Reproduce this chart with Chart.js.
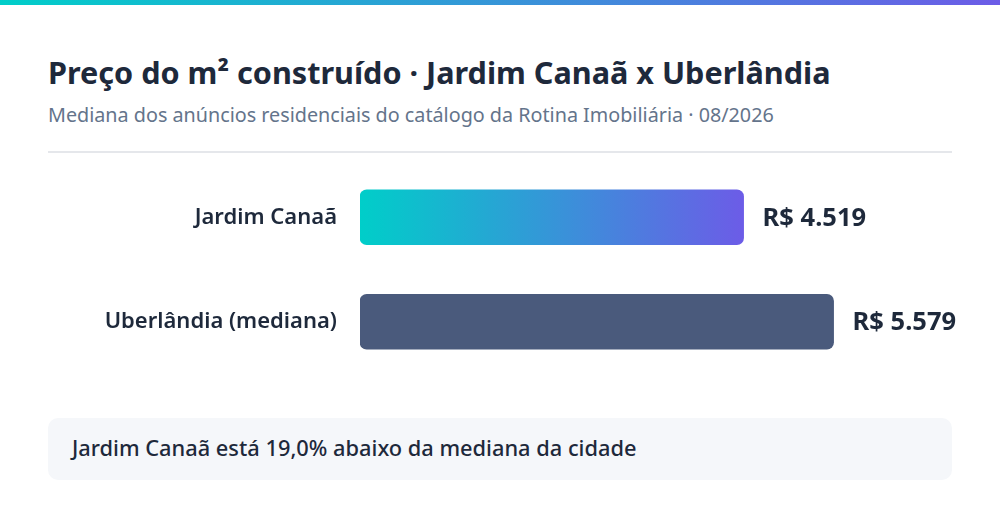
<!DOCTYPE html>
<html lang="pt-BR">
<head>
<meta charset="utf-8">
<script src="https://cdn.jsdelivr.net/npm/chart.js@4/dist/chart.umd.min.js"></script>
<style>
  html, body { margin: 0; padding: 0; background: #fff; }
  body { width: 1000px; height: 520px; position: relative; overflow: hidden; font-family: "Noto Sans", "Open Sans", sans-serif; color: #1e293b; }
  .topbar { position: absolute; left: 0; top: 0; width: 1000px; height: 5px; background: linear-gradient(90deg, #00cec9, #6c5ce7); }
  h1 { position: absolute; left: 48px; top: 52px; margin: 0; font-size: 30.6px; line-height: 40px; font-weight: 700; }
  .sub { position: absolute; left: 48px; top: 101px; margin: 0; font-size: 19.75px; line-height: 28px; color: #64748b; }
  .rule { position: absolute; left: 48px; top: 151px; width: 904px; height: 2px; background: #e5e7eb; }
  #wrap { position: absolute; left: 0; top: 135px; width: 1000px; height: 269px; }
  .note { position: absolute; left: 48px; top: 418px; width: 904px; height: 62px; background: #f5f7fa; border-radius: 10px; box-sizing: border-box; padding-left: 24px; line-height: 60px; font-size: 21.8px; font-weight: 500; }
</style>
</head>
<body>
<div class="topbar"></div>
<h1>Preço do m² construído · Jardim Canaã x Uberlândia</h1>
<p class="sub">Mediana dos anúncios residenciais do catálogo da Rotina Imobiliária · 08/2026</p>
<div class="rule"></div>
<div id="wrap"><canvas id="bars"></canvas></div>
<div class="note" id="note"></div>

<script>
// Data
const categories = ['Jardim Canaã', 'Uberlândia (mediana)'];
const pricePerM2 = [4519, 5579];
const barColors = ['gradient', '#4a5a7c'];

const fmt = v => 'R$ ' + v.toLocaleString('pt-BR');

const diff = (pricePerM2[1] - pricePerM2[0]) / pricePerM2[1] * 100;
document.getElementById('note').textContent =
    categories[0] + ' está ' + diff.toFixed(1).replace('.', ',') + '% abaixo da mediana da cidade';

// draws the "R$ x.xxx" text after each bar
const valueLabels = {
    id: 'valueLabels',
    afterDatasetsDraw(chart) {
        const ctx = chart.ctx;
        const meta = chart.getDatasetMeta(0);
        ctx.save();
        ctx.font = '700 25.5px "Noto Sans", sans-serif';
        ctx.fillStyle = '#1e293b';
        ctx.textAlign = 'left';
        ctx.textBaseline = 'middle';
        meta.data.forEach((bar, i) => {
            ctx.fillText(fmt(pricePerM2[i]), bar.x + 19, bar.y + 1);
        });
        ctx.restore();
    }
};

const ctx = document.getElementById('bars').getContext('2d');
const chart = new Chart(ctx, {
    type: 'bar',
    data: {
        labels: categories,
        datasets: [{
            data: pricePerM2,
            barThickness: 55,
            borderRadius: 7,
            borderSkipped: false,
            backgroundColor: function (context) {
                const c = barColors[context.dataIndex];
                if (c !== 'gradient') return c;
                const chart = context.chart;
                const area = chart.chartArea;
                if (!area) return '#00cec9';
                const x0 = chart.scales.x.getPixelForValue(0);
                const x1 = chart.scales.x.getPixelForValue(pricePerM2[context.dataIndex]);
                const g = chart.ctx.createLinearGradient(x0, 0, x1, 0);
                g.addColorStop(0, '#00cec9');
                g.addColorStop(1, '#6c5ce7');
                return g;
            }
        }]
    },
    options: {
        indexAxis: 'y',
        responsive: true,
        maintainAspectRatio: false,
        animation: false,
        layout: { padding: { top: 30, bottom: 30, right: 48, left: 0 } },
        plugins: { legend: { display: false }, tooltip: { enabled: false } },
        scales: {
            x: {
                display: false,
                min: 0,
                max: Math.max(...pricePerM2) * 1.25
            },
            y: {
                grid: { display: false },
                border: { display: false },
                ticks: {
                    color: '#1e293b',
                    padding: 15,
                    font: { family: '"Noto Sans", sans-serif', size: 22, weight: '600' }
                },
                afterFit(scale) { scale.width = 360; }
            }
        }
    },
    plugins: [valueLabels]
});
</script>
</body>
</html>
